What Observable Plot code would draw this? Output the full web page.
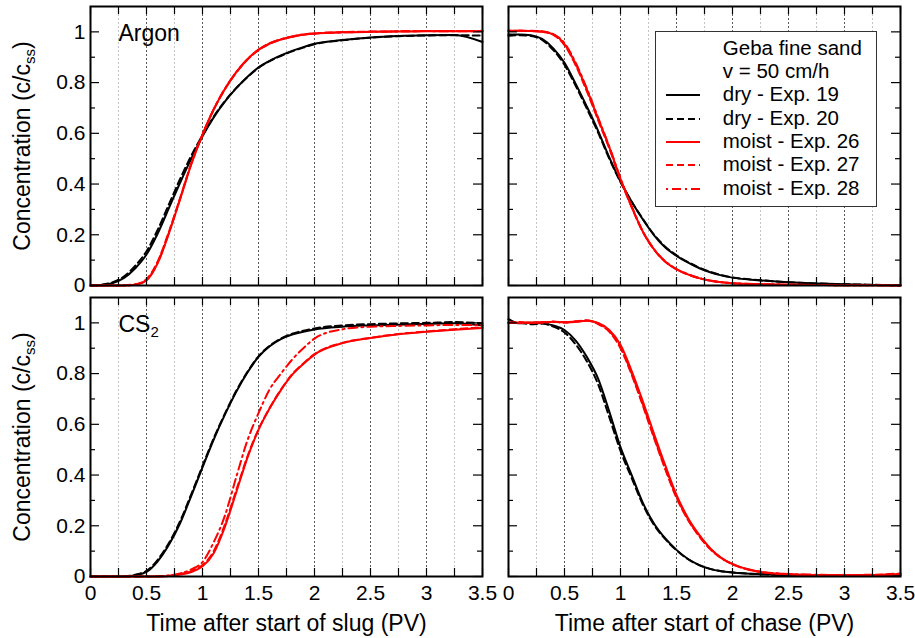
<!DOCTYPE html>
<html>
<head>
<meta charset="utf-8">
<script src="https://cdn.jsdelivr.net/npm/d3@7"></script>
<script src="https://cdn.jsdelivr.net/npm/@observablehq/plot@0.6"></script>
<style>
  body { margin: 0; background: #fff; }
  #chart { position: relative; width: 915px; height: 638px; background: #fff;
           font-family: "Liberation Sans", Arial, Helvetica, sans-serif; }
  .panel { position: absolute; overflow: visible; }
  .legend { position: absolute; left: 655px; top: 30.5px; width: 222px; height: 176px;
            box-sizing: border-box; border: 1.5px solid #333; background: #fff;
            font-size: 20.5px; color: #000; }
  .legend .row { position: absolute; left: 0; width: 100%; height: 23.33px; }
  .legend .row span { position: absolute; left: 66.8px; top: 0; line-height: 23.33px; white-space: nowrap; }
  .legend .row svg { position: absolute; left: 9.5px; top: 0; width: 36px; height: 23.33px; }
</style>
</head>
<body>
<div id="chart"></div>
<script>
// ---------------- data ----------------
const timePV = [0, 0.1, 0.2, 0.3, 0.4, 0.5, 0.6, 0.7, 0.8, 0.9, 1.0, 1.1, 1.2, 1.3, 1.4, 1.5, 1.6, 1.7, 1.8, 1.9, 2.0, 2.25, 2.5, 2.75, 3.0, 3.25, 3.5];

const seriesNames = ["dry - Exp. 19", "dry - Exp. 20", "moist - Exp. 26", "moist - Exp. 27", "moist - Exp. 28"];

// Argon, after start of slug
const argonSlug19 = [0, 0.002, 0.01, 0.03, 0.068, 0.122, 0.205, 0.305, 0.405, 0.5, 0.588, 0.663, 0.725, 0.777, 0.822, 0.86, 0.886, 0.907, 0.925, 0.94, 0.953, 0.968, 0.978, 0.984, 0.987, 0.988, 0.96];
const argonSlug20 = [0, 0.003, 0.013, 0.036, 0.078, 0.135, 0.22, 0.32, 0.42, 0.512, 0.593, 0.666, 0.727, 0.778, 0.821, 0.858, 0.885, 0.905, 0.923, 0.938, 0.951, 0.967, 0.977, 0.983, 0.986, 0.987, 0.985];
const argonSlug26 = [0, 0, 0, 0, 0.003, 0.02, 0.088, 0.205, 0.34, 0.478, 0.594, 0.694, 0.775, 0.84, 0.892, 0.93, 0.954, 0.97, 0.981, 0.989, 0.993, 0.998, 1.0, 1.001, 1.002, 1.002, 1.003];
const argonSlug27 = [0, 0, 0, 0.001, 0.005, 0.025, 0.095, 0.212, 0.345, 0.482, 0.596, 0.694, 0.774, 0.838, 0.89, 0.928, 0.953, 0.97, 0.981, 0.989, 0.994, 0.999, 1.001, 1.002, 1.003, 1.003, 1.004];
const argonSlug28 = [0, 0, 0, 0, 0.004, 0.022, 0.09, 0.208, 0.342, 0.48, 0.595, 0.695, 0.776, 0.84, 0.891, 0.929, 0.955, 0.971, 0.982, 0.99, 0.994, 0.998, 1.0, 1.002, 1.003, 1.002, 1.003];

// Argon, after start of chase
const argonChase19 = [0.99, 0.99, 0.987, 0.972, 0.935, 0.878, 0.795, 0.705, 0.61, 0.505, 0.41, 0.33, 0.26, 0.198, 0.15, 0.117, 0.091, 0.069, 0.052, 0.04, 0.031, 0.02, 0.013, 0.008, 0.005, 0.002, 0.001];
const argonChase20 = [0.985, 0.987, 0.984, 0.968, 0.928, 0.87, 0.787, 0.697, 0.603, 0.5, 0.408, 0.33, 0.262, 0.2, 0.153, 0.119, 0.093, 0.071, 0.054, 0.041, 0.032, 0.021, 0.013, 0.008, 0.005, 0.003, 0.001];
const argonChase26 = [1.003, 1.003, 1.003, 1.0, 0.99, 0.952, 0.874, 0.772, 0.658, 0.545, 0.42, 0.31, 0.212, 0.142, 0.094, 0.064, 0.044, 0.029, 0.019, 0.013, 0.009, 0.005, 0.003, 0.002, 0.001, 0.001, 0];
const argonChase27 = [1.005, 1.004, 1.004, 1.002, 0.988, 0.948, 0.868, 0.765, 0.652, 0.54, 0.417, 0.308, 0.211, 0.141, 0.094, 0.064, 0.044, 0.029, 0.019, 0.013, 0.009, 0.005, 0.003, 0.002, 0.001, 0.001, 0];
const argonChase28 = [1.004, 1.005, 1.003, 1.001, 0.991, 0.955, 0.878, 0.776, 0.662, 0.548, 0.423, 0.312, 0.213, 0.143, 0.095, 0.065, 0.045, 0.03, 0.02, 0.013, 0.009, 0.005, 0.003, 0.002, 0.001, 0.001, 0];

// CS2, after start of slug
const cs2Slug19 = [0, 0, 0, 0, 0.005, 0.018, 0.06, 0.125, 0.21, 0.318, 0.43, 0.54, 0.638, 0.727, 0.803, 0.866, 0.908, 0.936, 0.954, 0.965, 0.974, 0.985, 0.99, 0.993, 0.996, 0.998, 0.99];
const cs2Slug20 = [0, 0, 0, 0.001, 0.007, 0.022, 0.066, 0.132, 0.218, 0.325, 0.436, 0.545, 0.642, 0.731, 0.806, 0.868, 0.91, 0.938, 0.957, 0.969, 0.978, 0.99, 0.995, 0.998, 1.0, 1.003, 0.998];
const cs2Slug26 = [0, 0, 0, 0, 0, 0, 0, 0.002, 0.008, 0.018, 0.04, 0.092, 0.196, 0.33, 0.467, 0.578, 0.663, 0.735, 0.795, 0.838, 0.875, 0.92, 0.94, 0.955, 0.965, 0.973, 0.98];
const cs2Slug27 = [0, 0, 0, 0, 0, 0, 0.001, 0.003, 0.01, 0.021, 0.045, 0.1, 0.205, 0.338, 0.472, 0.58, 0.665, 0.737, 0.797, 0.84, 0.877, 0.921, 0.941, 0.956, 0.966, 0.975, 0.982];
const cs2Slug28 = [0, 0, 0, 0, 0, 0, 0.001, 0.004, 0.012, 0.028, 0.057, 0.135, 0.24, 0.39, 0.535, 0.644, 0.738, 0.8, 0.855, 0.9, 0.938, 0.975, 0.985, 0.988, 0.99, 0.992, 0.99];

// CS2, after start of chase
const cs2Chase19 = [1.015, 0.998, 1.0, 0.998, 0.99, 0.972, 0.93, 0.865, 0.78, 0.65, 0.51, 0.4, 0.29, 0.208, 0.15, 0.105, 0.07, 0.046, 0.03, 0.021, 0.016, 0.009, 0.005, 0.004, 0.003, 0.003, 0.003];
const cs2Chase20 = [1.0, 1.0, 0.995, 0.997, 0.985, 0.962, 0.915, 0.848, 0.758, 0.628, 0.495, 0.388, 0.283, 0.203, 0.147, 0.103, 0.069, 0.045, 0.03, 0.021, 0.016, 0.009, 0.005, 0.004, 0.003, 0.003, 0.003];
const cs2Chase26 = [1.0, 1.0, 1.0, 1.003, 1.003, 1.003, 1.005, 1.008, 1.0, 0.972, 0.914, 0.81, 0.69, 0.562, 0.438, 0.322, 0.233, 0.166, 0.112, 0.074, 0.05, 0.018, 0.009, 0.006, 0.005, 0.006, 0.01];
const cs2Chase27 = [1.0, 1.003, 1.0, 1.002, 1.004, 1.0, 1.006, 1.01, 0.995, 0.965, 0.9, 0.795, 0.673, 0.545, 0.422, 0.31, 0.225, 0.16, 0.108, 0.072, 0.048, 0.018, 0.009, 0.006, 0.006, 0.007, 0.012];
const cs2Chase28 = [1.0, 1.0, 1.002, 1.0, 1.005, 1.002, 1.004, 1.008, 0.998, 0.968, 0.905, 0.8, 0.678, 0.55, 0.428, 0.315, 0.228, 0.162, 0.11, 0.073, 0.049, 0.019, 0.01, 0.007, 0.006, 0.006, 0.01];

// axes / text
const xLabelValues = [0, 0.5, 1, 1.5, 2, 2.5, 3, 3.5];
const xTickLabels = ["0", "0.5", "1", "1.5", "2", "2.5", "3", "3.5"];
const xTickValues = [0, 0.25, 0.5, 0.75, 1, 1.25, 1.5, 1.75, 2, 2.25, 2.5, 2.75, 3, 3.25, 3.5];
const gridMajorX = [0.5, 1, 1.5, 2, 2.5, 3];
const gridMinorX = [0.25, 0.75, 1.25, 1.75, 2.25, 2.75, 3.25];
const yTickValues = [0, 0.2, 0.4, 0.6, 0.8, 1];
const yTickLabels = ["0", "0.2", "0.4", "0.6", "0.8", "1"];
const yMinorTicks = [0.1, 0.3, 0.5, 0.7, 0.9];
const yTitleParts = ["Concentration (c/c", "ss", ")"];
const xTitles = ["Time after start of slug (PV)", "Time after start of chase (PV)"];
const panelLabelParts = [["Argon"], null, ["CS", "2"], null];
const legendHeader = ["Geba fine sand", "v = 50 cm/h"];

// ---------------- styles ----------------
const seriesColors = ["#000000", "#000000", "#ff0000", "#ff0000", "#ff0000"];
const seriesDash = [null, "7,4", null, "7,4", "2,4,9,4"];
const FONT = '"Liberation Sans", Arial, Helvetica, sans-serif';

const panels = [
  {row: 0, col: 0, values: [argonSlug19, argonSlug20, argonSlug26, argonSlug27, argonSlug28]},
  {row: 0, col: 1, values: [argonChase19, argonChase20, argonChase26, argonChase27, argonChase28]},
  {row: 1, col: 0, values: [cs2Slug19, cs2Slug20, cs2Slug26, cs2Slug27, cs2Slug28]},
  {row: 1, col: 1, values: [cs2Chase19, cs2Chase20, cs2Chase26, cs2Chase27, cs2Chase28]}
];

const COLS = [{left: 0, width: 490, ml: 90, mr: 8}, {left: 500, width: 415, ml: 8, mr: 15}];
const ROWS = [{top: 0, height: 291, mt: 6, mb: 6}, {top: 291, height: 347, mt: 6, mb: 62}];

const chart = document.getElementById("chart");

function applySub(svg, parts) {
  const full = parts.join("");
  d3.select(svg).selectAll("text").filter(function () { return this.textContent === full; })
    .each(function () {
      const t = d3.select(this);
      t.text(null);
      t.append("tspan").text(parts[0]);
      t.append("tspan").attr("font-size", "15px").attr("dy", "5").text(parts[1]);
      if (parts[2] !== undefined) t.append("tspan").attr("dy", "-5").text(parts[2]);
    });
}

panels.forEach((p, pi) => {
  const C = COLS[p.col], R = ROWS[p.row];
  const innerW = C.width - C.ml - C.mr;
  const innerH = R.height - R.mt - R.mb;
  const fmtX = d => xTickLabels[xLabelValues.indexOf(d)];
  const fmtY = d => yTickLabels[yTickValues.indexOf(d)];

  const marks = [
    Plot.ruleX(gridMinorX, {x: d => d, stroke: "#c4c4c4", strokeWidth: 1, strokeDasharray: "2,2"}),
    Plot.ruleX(gridMajorX, {x: d => d, stroke: "#5a5a5a", strokeWidth: 1, strokeDasharray: "2,2"})
  ];
  seriesNames.forEach((name, i) => {
    const rows = timePV.map((t, j) => ({t, c: p.values[i][j]}));
    marks.push(Plot.line(rows, {
      x: "t", y: "c", stroke: seriesColors[i], strokeWidth: 2,
      strokeDasharray: seriesDash[i], curve: "monotone-x"
    }));
  });
  // inward ticks on all four sides
  marks.push(
    Plot.tickX(xTickValues, {x: d => d, insetTop: innerH - 8, stroke: "#000", strokeWidth: 1.2}),
    Plot.tickX(xTickValues, {x: d => d, insetBottom: innerH - 8, stroke: "#000", strokeWidth: 1.2}),
    Plot.tickY(yTickValues, {y: d => d, insetRight: innerW - 9, stroke: "#000", strokeWidth: 1.2}),
    Plot.tickY(yTickValues, {y: d => d, insetLeft: innerW - 9, stroke: "#000", strokeWidth: 1.2}),
    Plot.tickY(yMinorTicks, {y: d => d, insetRight: innerW - 5, stroke: "#000", strokeWidth: 1.2}),
    Plot.tickY(yMinorTicks, {y: d => d, insetLeft: innerW - 5, stroke: "#000", strokeWidth: 1.2}),
    Plot.frame({stroke: "#000", strokeWidth: 2})
  );
  if (p.col === 0) {
    marks.push(
      Plot.axisY(yTickValues, {anchor: "left", tickSize: 0, tickPadding: 5, fontSize: 21, tickFormat: fmtY, label: null}),
      Plot.text([yTitleParts.join("")], {text: d => d, frameAnchor: "left", rotate: -90, dx: -60.5,
        lineAnchor: "bottom", textAnchor: "middle", fontSize: 23})
    );
  }
  if (p.row === 1) {
    marks.push(
      Plot.axisX(xLabelValues, {anchor: "bottom", tickSize: 0, tickPadding: 9, fontSize: 21, tickFormat: fmtX, label: null}),
      Plot.text([xTitles[p.col]], {text: d => d, frameAnchor: "bottom", dy: 54, lineAnchor: "bottom",
        textAnchor: "middle", fontSize: 23})
    );
  }
  const lab = panelLabelParts[pi];
  if (lab) {
    marks.push(Plot.text([lab.join("")], {text: d => d, frameAnchor: "top-left", dx: 28, dy: 27,
      lineAnchor: "middle", textAnchor: "start", fontSize: 23}));
  }

  const svg = Plot.plot({
    width: C.width, height: R.height,
    marginLeft: C.ml, marginRight: C.mr, marginTop: R.mt, marginBottom: R.mb,
    x: {domain: [0, 3.5], axis: null},
    y: {domain: [0, 1.1], axis: null},
    style: {fontFamily: FONT, fontSize: "21px", background: "transparent", overflow: "visible", color: "#000"},
    marks
  });
  svg.classList.add("panel");
  svg.style.left = C.left + "px";
  svg.style.top = R.top + "px";
  chart.appendChild(svg);
  if (p.col === 0) applySub(svg, yTitleParts);
  if (lab && lab.length > 1) applySub(svg, lab);
});

// ---------------- legend ----------------
const legend = d3.select(chart).append("div").attr("class", "legend");
const legendRows = legendHeader.map(h => ({text: h, i: -1})).concat(seriesNames.map((s, i) => ({text: s, i})));
legendRows.forEach((r, k) => {
  const row = legend.append("div").attr("class", "row").style("top", (4.25 + k * 23.33) + "px");
  if (r.i >= 0) {
    const s = row.append("svg");
    s.append("line").attr("x1", 0).attr("x2", 34).attr("y1", 13).attr("y2", 13)
      .attr("stroke", seriesColors[r.i]).attr("stroke-width", 2.2)
      .attr("stroke-dasharray", seriesDash[r.i]);
  }
  row.append("span").text(r.text);
});
</script>
</body>
</html>
